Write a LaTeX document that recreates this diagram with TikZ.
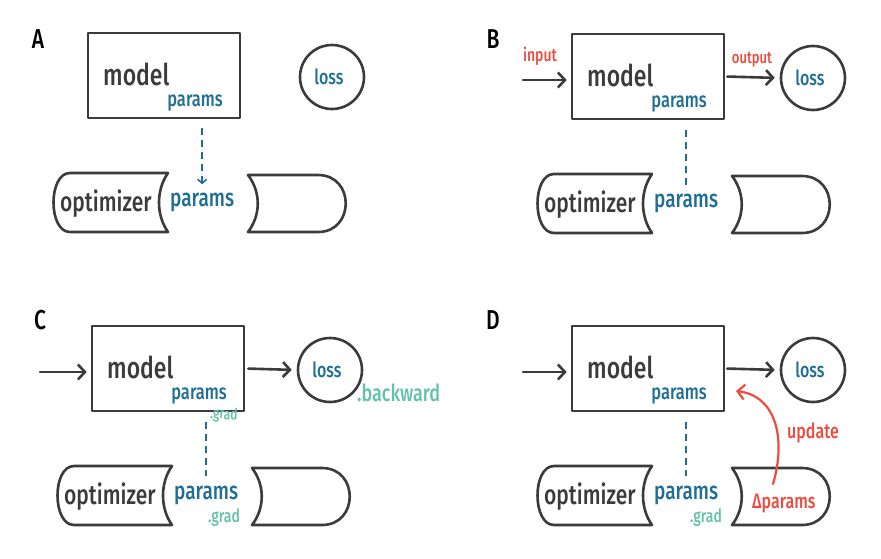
\documentclass[tikz,border=0pt]{standalone}
\usepackage{fontspec}
\setmainfont{Fira Sans}[UprightFont=* Medium]
\usetikzlibrary{arrows.meta,calc}

\definecolor{ink}{HTML}{3B3B3B}
\definecolor{pblue}{HTML}{1F6E96}
\definecolor{pred}{HTML}{EE4B3F}
\definecolor{pteal}{HTML}{63C2A8}

\newcommand\fsz[1]{\fontsize{#1}{#1}\selectfont}

\tikzset{
  inkline/.style={draw=ink, line width=2.6pt, line cap=round, line join=round},
  modelbox/.style={inkline, rectangle, minimum width=152pt, minimum height=85pt, inner sep=0pt},
  lossring/.style={inkline, circle, minimum size=64pt, inner sep=0pt},
  tapepiece/.style={inkline, fill=white},
  tall/.style={inner sep=0pt, yscale=1.3, transform shape},
  bigword/.style={tall, text=ink, font=\fsz{23}},
  optword/.style={tall, text=ink, font=\fsz{21}},
  lossword/.style={tall, text=pblue, font=\fsz{16}},
  smallparams/.style={tall, text=pblue, font=\fsz{16.5}},
  lowparams/.style={tall, text=pblue, font=\fsz{19}},
  redword/.style={tall, text=pred},
  tealword/.style={tall, text=pteal},
  panelletter/.style={tall, text=black, font=\fsz{21}},
  inkarrow/.style={inkline, -{Straight Barb[length=7pt,width=15pt]}},
  dashlink/.style={draw=pblue, line width=1.6pt, dash pattern=on 7pt off 5pt},
  redarrow/.style={draw=pred, line width=2.2pt, line cap=round, -{Straight Barb[length=7pt,width=15pt]}},
}

% One panel: model box, loss circle and the split optimizer tape
% #1 tag, #2/#3 shift, #4 loss centre x (local)
\newcommand\basepanel[4]{%
  \begin{scope}[shift={(#2,#3)}]
    \node[modelbox] (model#1) at (164,75.5) {};
    \node[bigword, anchor=base west] (mw#1) at (103,85) {model};
    \node[smallparams, anchor=base east] (mp#1) at (223,106) {params};
    \node[lossring] (loss#1) at (#4,77) {};
    \node[lossword] (lw#1) at ([xshift=-3pt]loss#1.center) {loss};
    \draw[tapepiece] (70,173) -- (168,173)
      .. controls (156,190) and (156,215) .. (168,232) -- (70,232)
      .. controls (48,232) and (48,173) .. (70,173) -- cycle;
    \draw[tapepiece] (248,175) -- (318,175)
      .. controls (355,175) and (355,232) .. (318,232) -- (248,232)
      .. controls (261,215) and (261,192) .. (248,175) -- cycle;
    \node[optword, anchor=base west] (opt#1) at (60,211) {optimizer};
    \node[lowparams, anchor=base west] (op#1) at (170,206) {params};
  \end{scope}}

\begin{document}
\begin{tikzpicture}[x=1pt, y=-1pt]
  \useasboundingbox[fill=white] (0,0) rectangle (881,558);

  % ---- A ----
  \node[panelletter] (labA) at (38,39) {A};
  \basepanel{A}{0}{0}{332}
  \draw[dashlink, -{Straight Barb[length=4pt,width=9pt]}]
    ([yshift=-9pt]modelA.south -| opA.north) -- ([yshift=8pt]opA.north);

  % ---- B ----
  \node[panelletter] (labB) at (493,39) {B};
  \basepanel{B}{484}{1}{329}
  \coordinate (inB) at (523,80);
  \draw[inkarrow, shorten >=4pt] (inB) -- (inB -| modelB.west);
  \node[redword, font=\fsz{14}] (inwB) at (540,56) {input};
  \draw[inkarrow, shorten <=2pt, shorten >=5pt] (modelB.east) -- (lossB.west);
  \node[redword, font=\fsz{13}] (outwB) at (752,60) {output};
  \draw[dashlink] ([yshift=-10pt]modelB.south -| opB.north) -- ([yshift=3pt]opB.north);

  % ---- C ----
  \node[panelletter] (labC) at (40,320) {C};
  \basepanel{C}{4}{293}{326}
  \coordinate (inC) at (40,372);
  \draw[inkarrow, shorten >=4pt] (inC) -- (inC -| modelC.west);
  \draw[inkarrow, shorten <=3pt, shorten >=5pt] (modelC.east) -- (lossC.west);
  \node[tealword, font=\fsz{18}, anchor=base west] (bwC) at (357,401) {.backward};
  \node[tealword, font=\fsz{12}, anchor=base west, rotate=-4] (mgC) at (210,418) {.grad};
  \draw[dashlink] ([yshift=-10pt]modelC.south -| opC.north) -- ([yshift=9pt]opC.north);
  \node[tealword, font=\fsz{14}, anchor=base west] (ogC) at (208,522) {.grad};

  % ---- D ----
  \node[panelletter] (labD) at (493,320) {D};
  \basepanel{D}{484}{293}{329}
  \coordinate (inD) at (523,372);
  \draw[inkarrow, shorten >=4pt] (inD) -- (inD -| modelD.west);
  \draw[inkarrow, shorten <=2pt, shorten >=5pt] (modelD.east) -- (lossD.west);
  \draw[dashlink] ([yshift=-10pt]modelD.south -| opD.north) -- ([yshift=9pt]opD.north);
  \node[tealword, font=\fsz{14}, anchor=base west] (ogD) at (690,522) {.grad};
  \node[redword, font=\fsz{16}, anchor=base west] (dpD) at (752,508) {Δparams};
  \node[redword, font=\fsz{16}, anchor=base west] (upD) at (787,438) {update};
  \coordinate (updStart) at (773,484);
  \coordinate (updEnd) at (736,391);
  \draw[redarrow] (updStart) .. controls (786,440) and (777,396) .. (updEnd);
\end{tikzpicture}
\end{document}
